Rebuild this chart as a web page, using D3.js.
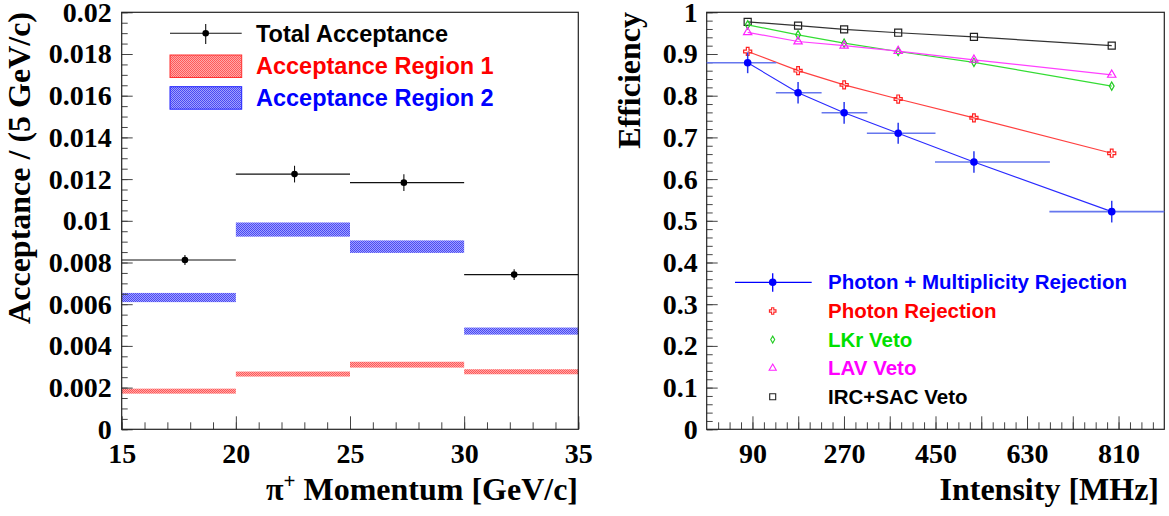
<!DOCTYPE html>
<html>
<head>
<meta charset="utf-8">
<script src="https://cdn.jsdelivr.net/npm/d3@7"></script>
<style>
  body { margin: 0; background: #fff; }
</style>
</head>
<body>
<div id="chart"></div>
<script>
// ---- left panel: acceptance vs momentum ----
var momEdges = [15, 20, 25, 30, 35];
var momMean = [17.77, 22.57, 27.36, 32.19];
var totalAcc = [0.00812, 0.01224, 0.01183, 0.00742];
var totalErr = [0.00024, 0.00040, 0.00040, 0.00026];
var region1Acc = [0.00183, 0.00265, 0.00310, 0.00276];
var region1Err = [0.00012, 0.00012, 0.00014, 0.00012];
var region2Acc = [0.00632, 0.00958, 0.00876, 0.00471];
var region2Err = [0.00022, 0.00034, 0.00030, 0.00017];
var accTicks = [0, 0.002, 0.004, 0.006, 0.008, 0.01, 0.012, 0.014, 0.016, 0.018, 0.02];
var momTicks = [15, 20, 25, 30, 35];

// ---- right panel: efficiency vs intensity ----
var intensity = [80.6, 179.7, 270.3, 376.6, 525.6, 796.6];
var intensityLo = [0, 136, 226, 315, 449, 674];
var intensityHi = [137, 226, 316, 450, 675, 900];
var effPhotonMult = [0.879, 0.807, 0.759, 0.710, 0.641, 0.522];
var effPhotonMultErr = [0.025, 0.026, 0.026, 0.025, 0.026, 0.026];
var effPhoton = [0.906, 0.860, 0.826, 0.792, 0.747, 0.662];
var effLKr = [0.970, 0.946, 0.926, 0.906, 0.880, 0.823];
var effLAV = [0.952, 0.930, 0.920, 0.907, 0.886, 0.850];
var effIRCSAC = [0.977, 0.968, 0.959, 0.951, 0.941, 0.920];
var effTicks = [0, 0.1, 0.2, 0.3, 0.4, 0.5, 0.6, 0.7, 0.8, 0.9, 1];
var intensityTicks = [90, 270, 450, 630, 810];

var svgWidth = 1169;
var svgHeight = 516;

var serif = "'Liberation Serif', 'Times New Roman', serif";
var sans = "'Liberation Sans', Arial, Helvetica, sans-serif";

var svg = d3.select("#chart")
  .append("svg")
  .attr("width", svgWidth)
  .attr("height", svgHeight);

// dotted fill patterns like ROOT hatch style
var defs = svg.append("defs");
function dotPattern(id, base, dot) {
  var p = defs.append("pattern")
    .attr("id", id)
    .attr("width", 2)
    .attr("height", 2)
    .attr("patternUnits", "userSpaceOnUse");
  p.append("rect").attr("width", 2).attr("height", 2).attr("fill", base);
  p.append("rect").attr("width", 1).attr("height", 1).attr("fill", dot);
  p.append("rect").attr("x", 1).attr("y", 1).attr("width", 1).attr("height", 1).attr("fill", dot);
}
dotPattern("redDots", "#ffa8a8", "#ff5858");
dotPattern("blueDots", "#a0a0ff", "#4a4af2");

// draws frame + axes for one panel
function drawAxes(g, x, y, opt) {
  var x0 = x.range()[0];
  var w = x.range()[1];
  var h = y.range()[0];

  var minorY = g.append("g")
    .attr("transform", `translate(${x0}, 0)`)
    .call(d3.axisLeft(y).tickValues(opt.yMinor).tickSize(-6).tickFormat(""));
  var majorY = g.append("g")
    .attr("transform", `translate(${x0}, 0)`)
    .call(d3.axisLeft(y).tickValues(opt.yMajor).tickSize(-11).tickPadding(opt.yPad)
      .tickFormat(d => String(d)));

  var minorX = g.append("g")
    .attr("transform", `translate(0, ${h})`)
    .call(d3.axisBottom(x).tickValues(opt.xMinor).tickSize(-7).tickFormat(""));
  var majorX = g.append("g")
    .attr("transform", `translate(0, ${h})`)
    .call(d3.axisBottom(x).tickValues(opt.xMajor).tickSize(-13).tickPadding(14)
      .tickFormat(opt.xFormat));

  [minorY, majorY, minorX, majorX].forEach(function(a) {
    a.select(".domain").remove();
    a.selectAll("line").attr("stroke", "#444");
    a.selectAll("text")
      .attr("font-family", serif)
      .attr("font-weight", "bold")
      .attr("font-size", 28)
      .attr("fill", "#000");
  });

  g.append("rect")
    .attr("x", x0)
    .attr("y", y.range()[1])
    .attr("width", w - x0)
    .attr("height", h - y.range()[1])
    .attr("fill", "none")
    .attr("stroke", "#222")
    .attr("stroke-width", 1.2);
}

// =============== LEFT PANEL ===============
var left = svg.append("g");
var xL = d3.scaleLinear().domain([15, 35]).range([121.7, 578.3]);
var yL = d3.scaleLinear().domain([0, 0.02]).range([429.3, 12.3]);

// bands
function drawBands(vals, errs, fill) {
  left.selectAll(null)
    .data(vals)
    .enter()
    .append("rect")
    .attr("x", (d, i) => xL(momEdges[i]))
    .attr("width", (d, i) => xL(momEdges[i + 1]) - xL(momEdges[i]))
    .attr("y", (d, i) => yL(d + errs[i]))
    .attr("height", (d, i) => yL(d - errs[i]) - yL(d + errs[i]))
    .attr("fill", fill);
}
drawBands(region1Acc, region1Err, "url(#redDots)");
drawBands(region2Acc, region2Err, "url(#blueDots)");

drawAxes(left, xL, yL, {
  yMajor: accTicks,
  yMinor: d3.range(0, 0.02001, 0.0005),
  xMajor: momTicks,
  xMinor: d3.range(15, 35.01, 1),
  xFormat: d => String(d),
  yPad: 10
});

// total acceptance points
var totalG = left.selectAll(".total")
  .data(totalAcc)
  .enter()
  .append("g")
  .attr("class", "total");
totalG.append("line")
  .attr("x1", (d, i) => xL(momEdges[i]))
  .attr("x2", (d, i) => xL(momEdges[i + 1]))
  .attr("y1", d => yL(d))
  .attr("y2", d => yL(d))
  .attr("stroke", "#111")
  .attr("stroke-width", 1.1);
totalG.append("line")
  .attr("x1", (d, i) => xL(momMean[i]))
  .attr("x2", (d, i) => xL(momMean[i]))
  .attr("y1", (d, i) => yL(d - totalErr[i]))
  .attr("y2", (d, i) => yL(d + totalErr[i]))
  .attr("stroke", "#111")
  .attr("stroke-width", 1.1);
totalG.append("circle")
  .attr("cx", (d, i) => xL(momMean[i]))
  .attr("cy", d => yL(d))
  .attr("r", 3.3)
  .attr("fill", "#000");

// axis titles
left.append("text")
  .attr("x", 578)
  .attr("y", 500)
  .attr("text-anchor", "end")
  .attr("font-family", serif)
  .attr("font-weight", "bold")
  .attr("font-size", 32)
  .html("π<tspan font-size='21' dy='-12'>+</tspan><tspan dy='12'> Momentum [GeV/c]</tspan>");

left.append("text")
  .attr("transform", "translate(30, 12) rotate(-90)")
  .attr("text-anchor", "end")
  .attr("font-family", serif)
  .attr("font-weight", "bold")
  .attr("font-size", 32)
  .text("Acceptance / (5 GeV/c)");

// legend
var legL = left.append("g").attr("font-family", sans).attr("font-weight", "bold").attr("font-size", 23.5);
legL.append("line").attr("x1", 170).attr("x2", 241.7).attr("y1", 33.3).attr("y2", 33.3)
  .attr("stroke", "#111").attr("stroke-width", 1.1);
legL.append("line").attr("x1", 205.7).attr("x2", 205.7).attr("y1", 24).attr("y2", 44)
  .attr("stroke", "#111").attr("stroke-width", 1.1);
legL.append("circle").attr("cx", 205.7).attr("cy", 33.3).attr("r", 3.3).attr("fill", "#000");
legL.append("rect").attr("x", 170).attr("y", 55).attr("width", 71.7).attr("height", 22.5)
  .attr("fill", "url(#redDots)").attr("stroke", "#ff3030");
legL.append("rect").attr("x", 170).attr("y", 86.7).attr("width", 71.7).attr("height", 22.5)
  .attr("fill", "url(#blueDots)").attr("stroke", "#2020ff");
legL.append("text").attr("x", 256).attr("y", 33.5).attr("dy", "0.35em").attr("fill", "#000").text("Total Acceptance");
legL.append("text").attr("x", 256).attr("y", 66).attr("dy", "0.35em").attr("fill", "#ff0000").text("Acceptance Region 1");
legL.append("text").attr("x", 256).attr("y", 98).attr("dy", "0.35em").attr("fill", "#0000ff").text("Acceptance Region 2");

// =============== RIGHT PANEL ===============
var right = svg.append("g");
var xR = d3.scaleLinear().domain([0, 900]).range([706.7, 1164.3]);
var yR = d3.scaleLinear().domain([0, 1]).range([429.3, 12.3]);

drawAxes(right, xR, yR, {
  yMajor: effTicks,
  yMinor: d3.range(0, 1.001, 0.02),
  xMajor: d3.range(90, 900, 90),
  xMinor: d3.range(22.5, 900, 22.5),
  xFormat: d => intensityTicks.indexOf(d) >= 0 ? String(d) : "",
  yPad: 9
});

var lineR = d3.line()
  .x((d, i) => xR(intensity[i]))
  .y(d => yR(d));

var series = [
  { vals: effIRCSAC, line: "#333", mark: "#222", sym: d3.symbolSquare, size: 50, lsize: 36, name: "IRC+SAC Veto", text: "#000" },
  { vals: effLKr, line: "#33dd33", mark: "#22cc22", sym: d3.symbolDiamond, size: 20, lsize: 14, name: "LKr Veto", text: "#00e000" },
  { vals: effLAV, line: "#ff40ff", mark: "#ff22ff", sym: d3.symbolTriangle, size: 30, lsize: 22, name: "LAV Veto", text: "#ff00ff" },
  { vals: effPhoton, line: "#ff4040", mark: "#ff2222", sym: d3.symbolCross, size: 36, lsize: 24, name: "Photon Rejection", text: "#ff0000" }
];

series.forEach(function(s) {
  right.append("path")
    .datum(s.vals)
    .attr("d", lineR)
    .attr("fill", "none")
    .attr("stroke", s.line)
    .attr("stroke-width", 1.2);
  right.selectAll(null)
    .data(s.vals)
    .enter()
    .append("path")
    .attr("transform", (d, i) => `translate(${xR(intensity[i])}, ${yR(d)})`)
    .attr("d", d3.symbol().type(s.sym).size(s.size))
    .attr("fill", "none")
    .attr("stroke", s.mark)
    .attr("stroke-width", 1.2);
});

// photon + multiplicity with error bars
right.append("path")
  .datum(effPhotonMult)
  .attr("d", lineR)
  .attr("fill", "none")
  .attr("stroke", "#2a2aff")
  .attr("stroke-width", 1.1);
var pm = right.selectAll(".pm")
  .data(effPhotonMult)
  .enter()
  .append("g")
  .attr("class", "pm");
pm.append("line")
  .attr("x1", (d, i) => xR(intensityLo[i]))
  .attr("x2", (d, i) => xR(intensityHi[i]))
  .attr("y1", d => yR(d))
  .attr("y2", d => yR(d))
  .attr("stroke", "#6677ee")
  .attr("stroke-width", 1.6);
pm.append("line")
  .attr("x1", (d, i) => xR(intensity[i]))
  .attr("x2", (d, i) => xR(intensity[i]))
  .attr("y1", (d, i) => yR(d - effPhotonMultErr[i]))
  .attr("y2", (d, i) => yR(d + effPhotonMultErr[i]))
  .attr("stroke", "#2a3aee")
  .attr("stroke-width", 1.5);
pm.append("circle")
  .attr("cx", (d, i) => xR(intensity[i]))
  .attr("cy", d => yR(d))
  .attr("r", 3.8)
  .attr("fill", "#0000ff");

// axis titles
right.append("text")
  .attr("x", 1159)
  .attr("y", 500)
  .attr("text-anchor", "end")
  .attr("font-family", serif)
  .attr("font-weight", "bold")
  .attr("font-size", 32)
  .text("Intensity [MHz]");

right.append("text")
  .attr("transform", "translate(640, 12) rotate(-90)")
  .attr("text-anchor", "end")
  .attr("font-family", serif)
  .attr("font-weight", "bold")
  .attr("font-size", 32)
  .text("Efficiency");

// legend
var legR = right.append("g").attr("font-family", sans).attr("font-weight", "bold").attr("font-size", 20.5);
legR.append("line").attr("x1", 735).attr("x2", 811.7).attr("y1", 282.3).attr("y2", 282.3)
  .attr("stroke", "#0000ff").attr("stroke-width", 1.3);
legR.append("line").attr("x1", 772.7).attr("x2", 772.7).attr("y1", 273.3).attr("y2", 291.7)
  .attr("stroke", "#0000ff").attr("stroke-width", 1.3);
legR.append("circle").attr("cx", 772.7).attr("cy", 282.3).attr("r", 3.8).attr("fill", "#0000ff");
legR.append("text").attr("x", 828).attr("y", 282.3).attr("dy", "0.35em").attr("fill", "#0000ff")
  .text("Photon + Multiplicity Rejection");

var legRows = [series[3], series[1], series[2], series[0]];
legRows.forEach(function(s, k) {
  var yy = 311 + k * 28.6;
  legR.append("path")
    .attr("transform", `translate(772.7, ${yy})`)
    .attr("d", d3.symbol().type(s.sym).size(s.lsize))
    .attr("fill", "none")
    .attr("stroke", s.mark)
    .attr("stroke-width", 1.1);
  legR.append("text").attr("x", 828).attr("y", yy).attr("dy", "0.35em").attr("fill", s.text).text(s.name);
});
</script>
</body>
</html>
